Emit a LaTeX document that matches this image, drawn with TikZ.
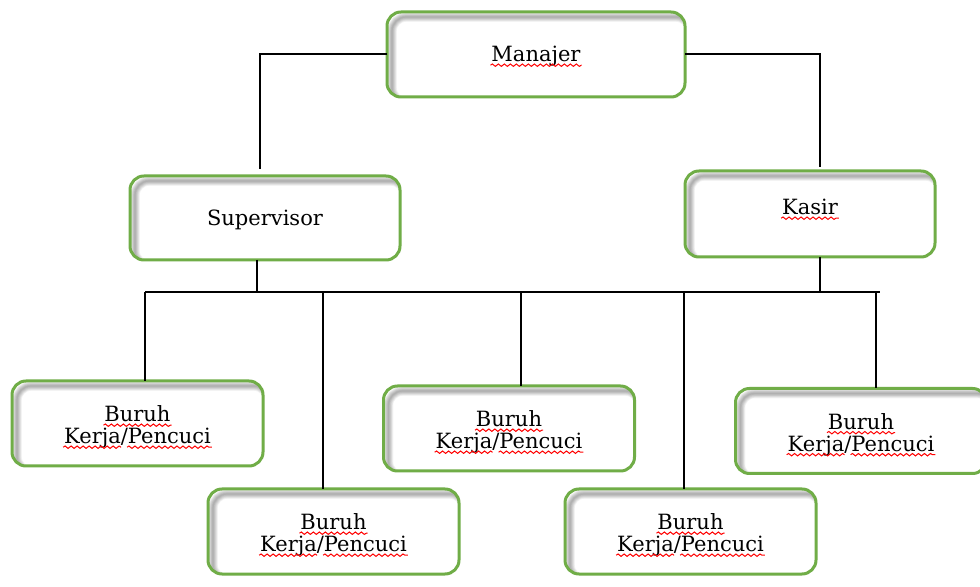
\documentclass[tikz,border=0pt]{standalone}
\usepackage{fontspec}
\setmainfont{DejaVu Serif}
\usetikzlibrary{positioning,calc,decorations.pathmorphing}
\definecolor{boxgreen}{RGB}{112,173,71}

\begin{document}
\begin{tikzpicture}[x=0.5pt, y=-0.5pt, line width=1pt,
  box/.style={rounded corners=7pt, minimum width=124.5pt, minimum height=41.5pt},
  lbl/.style={anchor=base, inner sep=0pt, font=\fontsize{10.5}{12}\selectfont},
  wavy/.style={red, line width=0.5pt, decorate, decoration={snake, amplitude=0.6pt, segment length=3pt}}]
  \useasboundingbox[fill=white] (0,0) rectangle (980,587);

  % boxes
  \node[box, minimum width=148pt] (man) at (536,54.5) {};
  \node[box, minimum width=134pt, minimum height=41pt] (sup) at (265,218) {};
  \node[box, minimum width=124pt, minimum height=42pt] (kas) at (810,214) {};
  \node[box] (b1) at (137.5,423.5) {};
  \node[box] (b2) at (333.5,531.5) {};
  \node[box] (b3) at (509,428.5) {};
  \node[box] (b4) at (690.5,531.5) {};
  \node[box] (b5) at (861,431) {};

  % inner shadow and green border
  \foreach \n in {man,sup,kas,b1,b2,b3,b4,b5}{
    \begin{scope}
      \clip[rounded corners=7pt] (\n.south west) rectangle (\n.north east);
      \foreach \k in {1,...,8}
        \draw[black, opacity=0.045, line width=\k*0.6pt, rounded corners=7pt]
          ($(\n.south west)+(5,5)$) rectangle ($(\n.north east)+(5,5)$);
    \end{scope}
    \draw[boxgreen, line width=1.5pt, rounded corners=7pt] (\n.south west) rectangle (\n.north east);
  }

  % texts
  \node[lbl] (man-a) at ([yshift=-3.75pt]man.center) {Manajer};
  \node[lbl] (sup-a) at ([yshift=-4pt]sup.center) {Supervisor};
  \node[lbl] (kas-a) at ([yshift=-0.5pt]kas.center) {Kasir};
  \draw[wavy] ($(man-a.base west)+(0,3.2)$) -- ($(man-a.base east)+(0,3.2)$);
  \draw[wavy] ($(kas-a.base west)+(0,3.2)$) -- ($(kas-a.base east)+(0,3.2)$);
  \foreach \n in {b1,b2,b3,b4,b5}{
    \node[lbl] (\n-a) at ([yshift=0.75pt]\n.center) {Buruh};
    \node[lbl] (\n-b) at ([yshift=-10.25pt]\n.center) {Kerja/Pencuci};
    \draw[wavy] ($(\n-a.base west)+(0,3.2)$) -- ($(\n-a.base east)+(0,3.2)$);
    \draw[wavy] ($(\n-b.base west)+(0,3.2)$) -- ($($(\n-b.base west)!0.39!(\n-b.base east)$)+(0,3.2)$);
    \draw[wavy] ($($(\n-b.base west)!0.43!(\n-b.base east)$)+(0,3.2)$) -- ($(\n-b.base east)+(0,3.2)$);
  }

  % lines
  \coordinate (busL) at (145,292);
  \coordinate (busR) at (880,292);
  \draw (man.west) -| ([xshift=-2.5pt, yshift=3.5pt]sup.north);
  \draw (man.east) -| ([xshift=5pt, yshift=2pt]kas.north);
  \draw ([xshift=-4pt]sup.south) -- ([xshift=-4pt]sup.south |- busL);
  \draw ([xshift=5pt]kas.south) -- ([xshift=5pt]kas.south |- busR);
  \draw (busL) -- (busR);
  \draw ([xshift=3.75pt]b1.north |- busL) -- ([xshift=3.75pt]b1.north);
  \draw ([xshift=-5.25pt]b2.north |- busL) -- ([xshift=-5.25pt]b2.north);
  \draw ([xshift=6pt]b3.north |- busL) -- ([xshift=6pt]b3.north);
  \draw ([xshift=-3.25pt]b4.north |- busL) -- ([xshift=-3.25pt]b4.north);
  \draw ([xshift=7.5pt]b5.north |- busL) -- ([xshift=7.5pt]b5.north);
\end{tikzpicture}
\end{document}
